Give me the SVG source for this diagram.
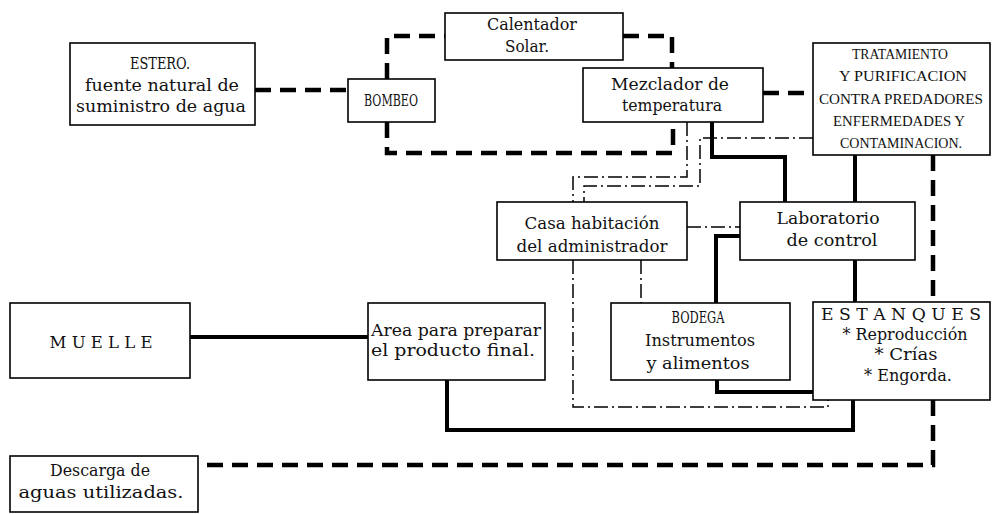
<svg xmlns="http://www.w3.org/2000/svg" width="993" height="514" viewBox="0 0 993 514">
<style>
.box{fill:#fff;stroke:#000;stroke-width:1.6}
.t{font-family:"DejaVu Serif","Liberation Serif",serif;font-size:17px;fill:#111;text-anchor:middle}
.cap{font-family:"Liberation Serif","DejaVu Serif",serif;font-size:15px}
.l{text-anchor:start}
.c path{fill:none;stroke:#000}
.thd{stroke-width:4.5;stroke-dasharray:16 9}
.ths{stroke-width:4}
.dd{stroke-width:1.5;stroke-dasharray:14 4 2 4}
</style>
<rect width="993" height="514" fill="#fff"/>
<g id="connectors" class="c">
  <path class="thd" d="M255,90 H348"/>
  <path class="thd" d="M387,79 V36 H445"/>
  <path class="thd" d="M623,36 H672 V68"/>
  <path class="thd" d="M387,122 V153 H673 V122"/>
  <path class="thd" d="M763,93 H813"/>
  <path class="thd" d="M933,155 V302"/>
  <path class="thd" d="M933,400 V465 H198"/>
  <path class="dd" d="M687,122 V177 H573 V202"/>
  <path class="dd" d="M813,138 H700 V186 H584 V202"/>
  <path class="dd" d="M687,227 H740"/>
  <path class="dd" d="M573,260 V407 H828 V400"/>
  <path class="dd" d="M641,260 V303"/>
  <path class="ths" d="M712,122 V157 H785 V202"/>
  <path class="ths" d="M855,155 V202"/>
  <path class="ths" d="M855,260 V302"/>
  <path class="ths" d="M740,236 H716 V303"/>
  <path class="ths" d="M190,337 H368"/>
  <path class="ths" d="M447,380 V430 H853 V400"/>
  <path class="ths" d="M717,380 V392 H813"/>
</g>
<g id="estero">
  <rect class="box" x="70" y="43" width="185" height="82"/>
  <text class="t" x="160" y="69" textLength="60" lengthAdjust="spacingAndGlyphs">ESTERO.</text>
  <text class="t" x="162" y="91" textLength="154" lengthAdjust="spacingAndGlyphs">fuente natural de</text>
  <text class="t" x="161" y="112" textLength="170" lengthAdjust="spacingAndGlyphs">suministro de agua</text>
</g>
<g id="bombeo">
  <rect class="box" x="348" y="79" width="87" height="43"/>
  <text class="t" x="391" y="106" textLength="54" lengthAdjust="spacingAndGlyphs">BOMBEO</text>
</g>
<g id="calentador">
  <rect class="box" x="445" y="13" width="178" height="47"/>
  <text class="t" x="532" y="30" textLength="90" lengthAdjust="spacingAndGlyphs">Calentador</text>
  <text class="t" x="527" y="52" textLength="44" lengthAdjust="spacingAndGlyphs">Solar.</text>
</g>
<g id="mezclador">
  <rect class="box" x="583" y="68" width="180" height="54"/>
  <text class="t" x="670" y="90" textLength="118" lengthAdjust="spacingAndGlyphs">Mezclador de</text>
  <text class="t" x="672" y="111" textLength="100" lengthAdjust="spacingAndGlyphs">temperatura</text>
</g>
<g id="tratamiento">
  <rect class="box" x="813" y="43" width="177" height="112"/>
  <text class="t cap" x="900" y="59" textLength="96" lengthAdjust="spacingAndGlyphs">TRATAMIENTO</text>
  <text class="t cap" x="903" y="81" textLength="128" lengthAdjust="spacingAndGlyphs">Y PURIFICACION</text>
  <text class="t cap" x="901" y="104" textLength="164" lengthAdjust="spacingAndGlyphs">CONTRA PREDADORES</text>
  <text class="t cap" x="899" y="126" textLength="132" lengthAdjust="spacingAndGlyphs">ENFERMEDADES Y</text>
  <text class="t cap" x="901" y="148" textLength="122" lengthAdjust="spacingAndGlyphs">CONTAMINACION.</text>
</g>
<g id="casa">
  <rect class="box" x="497" y="202" width="190" height="58"/>
  <text class="t" x="592" y="229" textLength="135" lengthAdjust="spacingAndGlyphs">Casa habitación</text>
  <text class="t" x="592" y="252" textLength="151" lengthAdjust="spacingAndGlyphs">del administrador</text>
</g>
<g id="laboratorio">
  <rect class="box" x="740" y="202" width="175" height="58"/>
  <text class="t" x="828" y="224" textLength="103" lengthAdjust="spacingAndGlyphs">Laboratorio</text>
  <text class="t" x="832" y="246" textLength="91" lengthAdjust="spacingAndGlyphs">de control</text>
</g>
<g id="muelle">
  <rect class="box" x="10" y="303" width="180" height="75"/>
  <text class="t" x="101" y="348" textLength="103" lengthAdjust="spacingAndGlyphs">M U E L L E</text>
</g>
<g id="area">
  <rect class="box" x="368" y="303" width="177" height="77"/>
  <text class="t l" x="371" y="336" textLength="170" lengthAdjust="spacingAndGlyphs">Area para preparar</text>
  <text class="t l" x="371" y="356" textLength="164" lengthAdjust="spacingAndGlyphs">el producto final.</text>
</g>
<g id="bodega">
  <rect class="box" x="611" y="303" width="179" height="77"/>
  <text class="t" x="698" y="323" textLength="53" lengthAdjust="spacingAndGlyphs">BODEGA</text>
  <text class="t" x="700" y="346" textLength="110" lengthAdjust="spacingAndGlyphs">Instrumentos</text>
  <text class="t" x="698" y="369" textLength="103" lengthAdjust="spacingAndGlyphs">y alimentos</text>
</g>
<g id="estanques">
  <rect class="box" x="813" y="302" width="177" height="98"/>
  <text class="t" x="901" y="320" textLength="160" lengthAdjust="spacingAndGlyphs">E S T A N Q U E S</text>
  <text class="t" x="905" y="340" textLength="125" lengthAdjust="spacingAndGlyphs">* Reproducción</text>
  <text class="t" x="906" y="360" textLength="63" lengthAdjust="spacingAndGlyphs">* Crías</text>
  <text class="t" x="908" y="381" textLength="88" lengthAdjust="spacingAndGlyphs">* Engorda.</text>
</g>
<g id="descarga">
  <rect class="box" x="10" y="456" width="188" height="56"/>
  <text class="t" x="100" y="476" textLength="100" lengthAdjust="spacingAndGlyphs">Descarga de</text>
  <text class="t" x="101" y="498" textLength="165" lengthAdjust="spacingAndGlyphs">aguas utilizadas.</text>
</g>
</svg>
